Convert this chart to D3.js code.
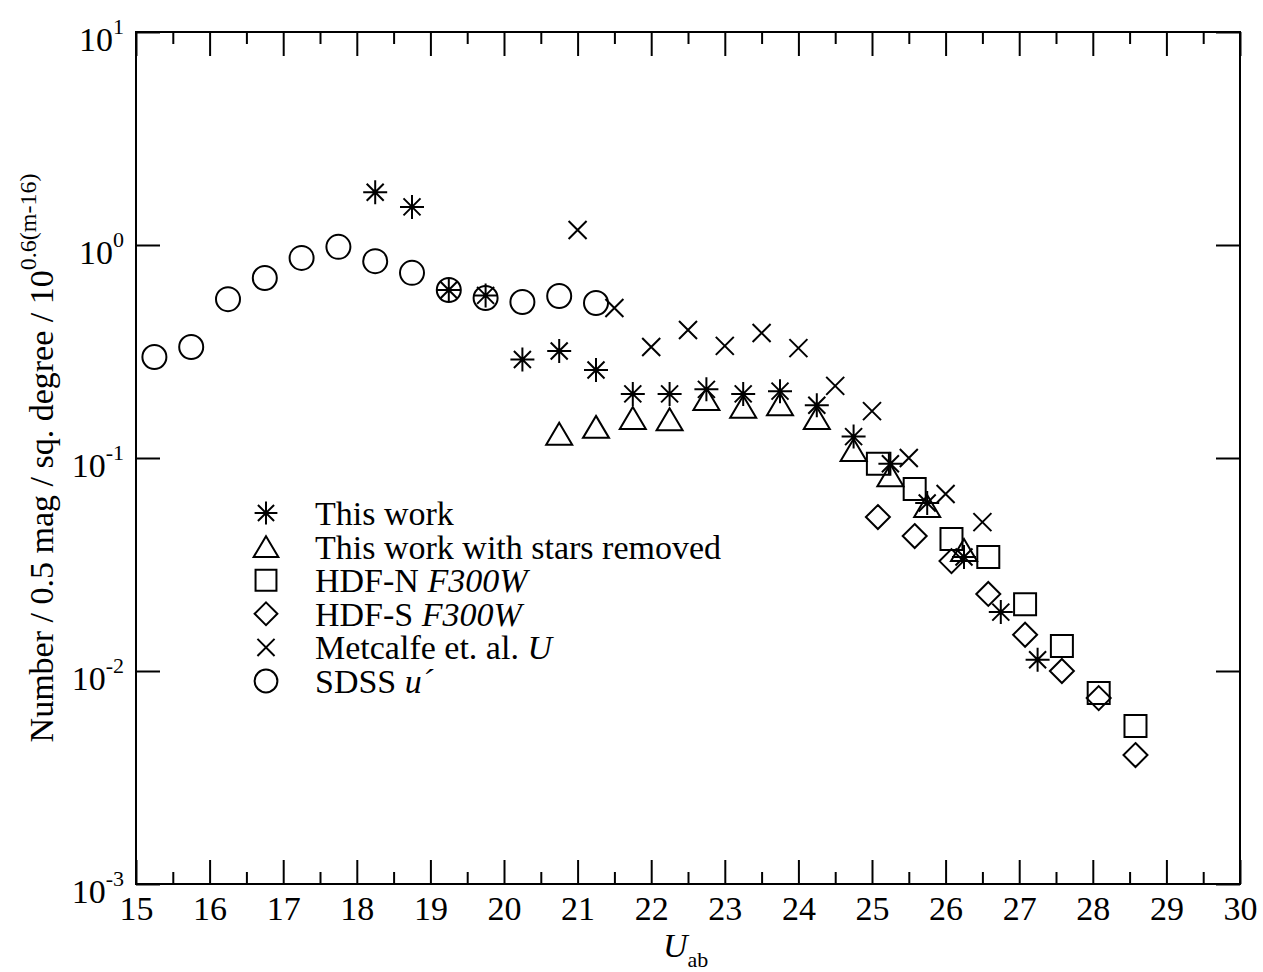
<!DOCTYPE html>
<html>
<head>
<meta charset="utf-8">
<script src="https://cdn.jsdelivr.net/npm/d3@7"></script>
<style>
  html, body { margin: 0; padding: 0; background: #fff; }
  svg { display: block; }
  text { font-family: "Liberation Serif", "Times New Roman", serif; fill: #000; }
</style>
</head>
<body>
<svg id="chart" width="1263" height="972"></svg>
<script>
// ---- Data ----
const thisWorkX = [18.25, 18.75, 19.25, 19.75, 20.25, 20.75, 21.25, 21.75, 22.25, 22.75, 23.25, 23.75, 24.25, 24.75, 25.25, 25.75, 26.25, 26.75, 27.25];
const thisWorkY = [1.77, 1.51, 0.615, 0.58, 0.29, 0.318, 0.259, 0.20, 0.20, 0.21, 0.20, 0.206, 0.177, 0.126, 0.094, 0.0615, 0.0343, 0.0189, 0.0113];

const noStarsX = [20.75, 21.25, 21.75, 22.25, 22.75, 23.25, 23.75, 24.25, 24.75, 25.25, 25.75, 26.25];
const noStarsY = [0.130, 0.140, 0.154, 0.152, 0.189, 0.174, 0.179, 0.154, 0.109, 0.083, 0.0595, 0.037];

const hdfnX = [25.08, 25.58, 26.08, 26.58, 27.08, 27.58, 28.08, 28.58];
const hdfnY = [0.094, 0.0715, 0.0417, 0.0343, 0.0206, 0.0131, 0.00788, 0.00552];

const hdfsX = [25.08, 25.58, 26.08, 26.58, 27.08, 27.58, 28.08, 28.58];
const hdfsY = [0.0528, 0.043, 0.0328, 0.023, 0.0148, 0.0100, 0.00746, 0.00403];

const metcalfeX = [21.0, 21.5, 22.0, 22.5, 23.0, 23.5, 24.0, 24.5, 25.0, 25.5, 26.0, 26.5];
const metcalfeY = [1.175, 0.506, 0.332, 0.399, 0.336, 0.386, 0.328, 0.218, 0.166, 0.100, 0.0678, 0.050];

const sdssX = [15.25, 15.75, 16.25, 16.75, 17.25, 17.75, 18.25, 18.75, 19.25, 19.75, 20.25, 20.75, 21.25];
const sdssY = [0.298, 0.332, 0.557, 0.70, 0.87, 0.98, 0.84, 0.74, 0.615, 0.564, 0.54, 0.576, 0.534];

const xTicks = [15, 16, 17, 18, 19, 20, 21, 22, 23, 24, 25, 26, 27, 28, 29, 30];
const xMinorTicks = [15.5, 16.5, 17.5, 18.5, 19.5, 20.5, 21.5, 22.5, 23.5, 24.5, 25.5, 26.5, 27.5, 28.5, 29.5];
const yTickExps = [-3, -2, -1, 0, 1];

const legendLabels = [
  { sym: "star", parts: [["This work", false]] },
  { sym: "triangle", parts: [["This work with stars removed", false]] },
  { sym: "square", parts: [["HDF-N ", false], ["F300W", true]] },
  { sym: "diamond", parts: [["HDF-S ", false], ["F300W", true]] },
  { sym: "cross", parts: [["Metcalfe et. al. ", false], ["U", true]] },
  { sym: "circle", parts: [["SDSS ", false], ["u\u00B4", true]] }
];

// ---- Layout ----
const L = 136, R = 1240, T = 32, B = 884;
const svg = d3.select("#chart");
const x = d3.scaleLinear().domain([15, 30]).range([L, R]);
const y = d3.scaleLog().domain([1e-3, 10]).range([B, T]);

// ---- Symbols ----
function symPath(type, s) {
  const p = d3.path();
  if (type === "star") {
    const r = 12 * s, d = 8.5 * s;
    p.moveTo(-r, 0); p.lineTo(r, 0);
    p.moveTo(0, -r); p.lineTo(0, r);
    p.moveTo(-d, -d); p.lineTo(d, d);
    p.moveTo(-d, d); p.lineTo(d, -d);
  } else if (type === "triangle") {
    p.moveTo(0, -11 * s); p.lineTo(13 * s, 11 * s); p.lineTo(-13 * s, 11 * s); p.closePath();
  } else if (type === "square") {
    const h = 11 * s;
    p.rect(-h, -h, 2 * h, 2 * h);
  } else if (type === "diamond") {
    const h = 12 * s;
    p.moveTo(0, -h); p.lineTo(h, 0); p.lineTo(0, h); p.lineTo(-h, 0); p.closePath();
  } else if (type === "cross") {
    const h = 9 * s;
    p.moveTo(-h, -h); p.lineTo(h, h);
    p.moveTo(-h, h); p.lineTo(h, -h);
  } else if (type === "circle") {
    const r = 12 * s;
    p.moveTo(r, 0); p.arc(0, 0, r, 0, 2 * Math.PI);
  }
  return p.toString();
}

function drawSeries(xs, ys, type) {
  const data = xs.map((v, i) => [v, ys[i]]);
  svg.append("g").selectAll("path").data(data).join("path")
    .attr("transform", d => `translate(${x(d[0])},${y(d[1])})`)
    .attr("d", symPath(type, 1))
    .attr("fill", "none")
    .attr("stroke", "#000")
    .attr("stroke-width", 2);
}

drawSeries(sdssX, sdssY, "circle");
drawSeries(metcalfeX, metcalfeY, "cross");
drawSeries(hdfsX, hdfsY, "diamond");
drawSeries(hdfnX, hdfnY, "square");
drawSeries(noStarsX, noStarsY, "triangle");
drawSeries(thisWorkX, thisWorkY, "star");

// ---- Axes ----
function styleAxis(g) {
  g.select(".domain").remove();
  g.selectAll(".tick line").attr("stroke", "#000").attr("stroke-width", 2);
}
// bottom
svg.append("g").attr("transform", `translate(0,${B})`)
  .call(d3.axisBottom(x).tickValues(xTicks).tickSize(-24).tickFormat(d3.format("d")).tickPadding(0))
  .call(styleAxis)
  .call(g => g.selectAll(".tick text").attr("dy", null).attr("y", 36)
    .style("font-size", "34px").style("font-family", "Liberation Serif, serif"));
svg.append("g").attr("transform", `translate(0,${B})`)
  .call(d3.axisBottom(x).tickValues(xMinorTicks).tickSize(-12).tickFormat(""))
  .call(styleAxis);
// top
svg.append("g").attr("transform", `translate(0,${T})`)
  .call(d3.axisTop(x).tickValues(xTicks).tickSize(-24).tickFormat(""))
  .call(styleAxis);
svg.append("g").attr("transform", `translate(0,${T})`)
  .call(d3.axisTop(x).tickValues(xMinorTicks).tickSize(-12).tickFormat(""))
  .call(styleAxis);
// left
const yTickVals = yTickExps.map(e => Math.pow(10, e));
svg.append("g").attr("transform", `translate(${L},0)`)
  .call(d3.axisLeft(y).tickValues(yTickVals).tickSize(-24).tickFormat(""))
  .call(styleAxis);
// right
svg.append("g").attr("transform", `translate(${R},0)`)
  .call(d3.axisRight(y).tickValues(yTickVals).tickSize(-24).tickFormat(""))
  .call(styleAxis);

// y tick labels with superscripts
const ylab = svg.append("g");
yTickExps.forEach(e => {
  const t = ylab.append("text")
    .attr("x", 124).attr("y", y(Math.pow(10, e)) + 19)
    .attr("text-anchor", "end")
    .style("font-size", "34px");
  t.append("tspan").text("10");
  t.append("tspan").attr("dy", -17).style("font-size", "22px").text(String(e));
});

// frame
svg.append("rect").attr("x", L).attr("y", T).attr("width", R - L).attr("height", B - T)
  .attr("fill", "none").attr("stroke", "#000").attr("stroke-width", 2);

// x label
const xl = svg.append("text").attr("x", 663).attr("y", 957).style("font-size", "34px");
xl.append("tspan").style("font-style", "italic").text("U");
xl.append("tspan").attr("dy", 10).style("font-size", "22px").text("ab");

// y label
const yl = svg.append("text")
  .attr("transform", "translate(53,458) rotate(-90)")
  .attr("text-anchor", "middle")
  .style("font-size", "34px");
yl.append("tspan").text("Number  / 0.5 mag / sq. degree / 10");
yl.append("tspan").attr("dy", -17).style("font-size", "24px").text("0.6(m-16)");

// ---- Legend ----
const legX = 266, legTextX = 315, legBase0 = 525, legStep = 33.6;
legendLabels.forEach((item, i) => {
  const base = legBase0 + i * legStep;
  svg.append("path")
    .attr("transform", `translate(${legX},${base - 12})`)
    .attr("d", symPath(item.sym, 0.95))
    .attr("fill", "none").attr("stroke", "#000").attr("stroke-width", 2);
  const t = svg.append("text").attr("x", legTextX).attr("y", base).style("font-size", "34px");
  item.parts.forEach(([s, it]) => {
    const ts = t.append("tspan").text(s);
    if (it) ts.style("font-style", "italic");
  });
});
</script>
</body>
</html>
